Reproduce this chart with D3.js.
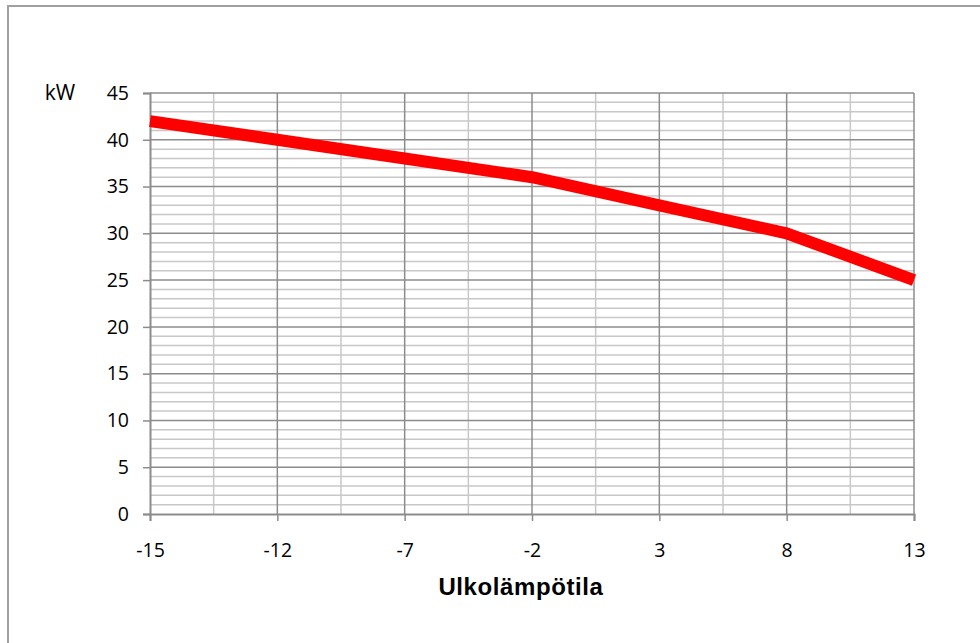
<!DOCTYPE html>
<html>
<head>
<meta charset="utf-8">
<script src="https://cdn.jsdelivr.net/npm/d3@7"></script>
<style>
  body { margin: 0; background: #fff; }
  svg { display: block; font-family: "Open Sans", sans-serif; }
</style>
</head>
<body>
<div id="chart"></div>
<script>
const width = 980;
const height = 643;
const margin = { top: 93, right: 66, bottom: 129, left: 150 };

const categories = ["-15", "-12", "-7", "-2", "3", "8", "13"];
const power = [42, 40, 38, 36, 33, 30, 25];
const yTicks = [0, 5, 10, 15, 20, 25, 30, 35, 40, 45];

const innerW = width - margin.left - margin.right;
const innerH = height - margin.top - margin.bottom;

const svg = d3
  .select("#chart")
  .append("svg")
  .attr("width", width)
  .attr("height", height);

// chart border
svg
  .append("rect")
  .attr("x", 8)
  .attr("y", 6)
  .attr("width", width + 10)
  .attr("height", height + 10)
  .attr("fill", "none")
  .attr("stroke", "#a0a0a0")
  .attr("stroke-width", 2);

const g = svg
  .append("g")
  .attr("transform", `translate(${margin.left},${margin.top})`);

const x = d3.scalePoint().domain(categories).range([0, innerW]);
const y = d3.scaleLinear().domain([0, 45]).range([innerH, 0]);
const step = x.step();

// minor horizontal gridlines (every 1)
g.append("g")
  .selectAll("line")
  .data(d3.range(0, 46).filter((v) => v % 5 !== 0))
  .join("line")
  .attr("x1", 0)
  .attr("x2", innerW)
  .attr("y1", (d) => y(d))
  .attr("y2", (d) => y(d))
  .attr("stroke", "#c8c8c8")
  .attr("stroke-width", 1.5);

// minor vertical gridlines (midpoints)
g.append("g")
  .selectAll("line")
  .data(categories.slice(1))
  .join("line")
  .attr("x1", (d) => x(d) - step / 2)
  .attr("x2", (d) => x(d) - step / 2)
  .attr("y1", 0)
  .attr("y2", innerH)
  .attr("stroke", "#c8c8c8")
  .attr("stroke-width", 1.5);

// major horizontal gridlines
g.append("g")
  .selectAll("line")
  .data(yTicks.slice(1))
  .join("line")
  .attr("x1", 0)
  .attr("x2", innerW)
  .attr("y1", (d) => y(d))
  .attr("y2", (d) => y(d))
  .attr("stroke", "#8c8c8c")
  .attr("stroke-width", 1.5);

// major vertical gridlines
g.append("g")
  .selectAll("line")
  .data(categories.slice(1))
  .join("line")
  .attr("x1", (d) => x(d))
  .attr("x2", (d) => x(d))
  .attr("y1", 0)
  .attr("y2", innerH)
  .attr("stroke", "#8c8c8c")
  .attr("stroke-width", 1.5);

// y axis
const yAxis = g
  .append("g")
  .call(d3.axisLeft(y).tickValues(yTicks).tickSize(7).tickPadding(14));
yAxis.select(".domain").attr("stroke", "#8c8c8c").attr("stroke-width", 2);
yAxis.selectAll(".tick line").attr("stroke", "#8c8c8c").attr("stroke-width", 1.5);
yAxis.selectAll("text").attr("font-size", 19.5).attr("fill", "#000").attr("font-family", "Open Sans");

// x axis
const xAxis = g
  .append("g")
  .attr("transform", `translate(0,${innerH})`)
  .call(d3.axisBottom(x).tickSize(7).tickPadding(22));
xAxis.select(".domain").attr("stroke", "#8c8c8c").attr("stroke-width", 2);
xAxis.selectAll(".tick line").attr("stroke", "#8c8c8c").attr("stroke-width", 1.5);
xAxis.selectAll("text").attr("font-size", 19.5).attr("fill", "#000").attr("font-family", "Open Sans");

// line
const line = d3
  .line()
  .x((d, i) => x(categories[i]))
  .y((d) => y(d));

g.append("path")
  .datum(power)
  .attr("d", line)
  .attr("fill", "none")
  .attr("stroke", "#ff0000")
  .attr("stroke-width", 12)
  .attr("stroke-linejoin", "round");

// unit label
svg
  .append("text")
  .attr("x", 60)
  .attr("y", 100)
  .attr("text-anchor", "middle")
  .attr("font-size", 21)
  .text("kW");

// axis title
svg
  .append("text")
  .attr("x", 521)
  .attr("y", 595)
  .attr("text-anchor", "middle")
  .attr("font-size", 24)
  .attr("font-weight", "bold")
  .attr("letter-spacing", 0.6)
  .attr("font-family", "Liberation Sans, Arial, sans-serif")
  .text("Ulkolämpötila");
</script>
</body>
</html>
